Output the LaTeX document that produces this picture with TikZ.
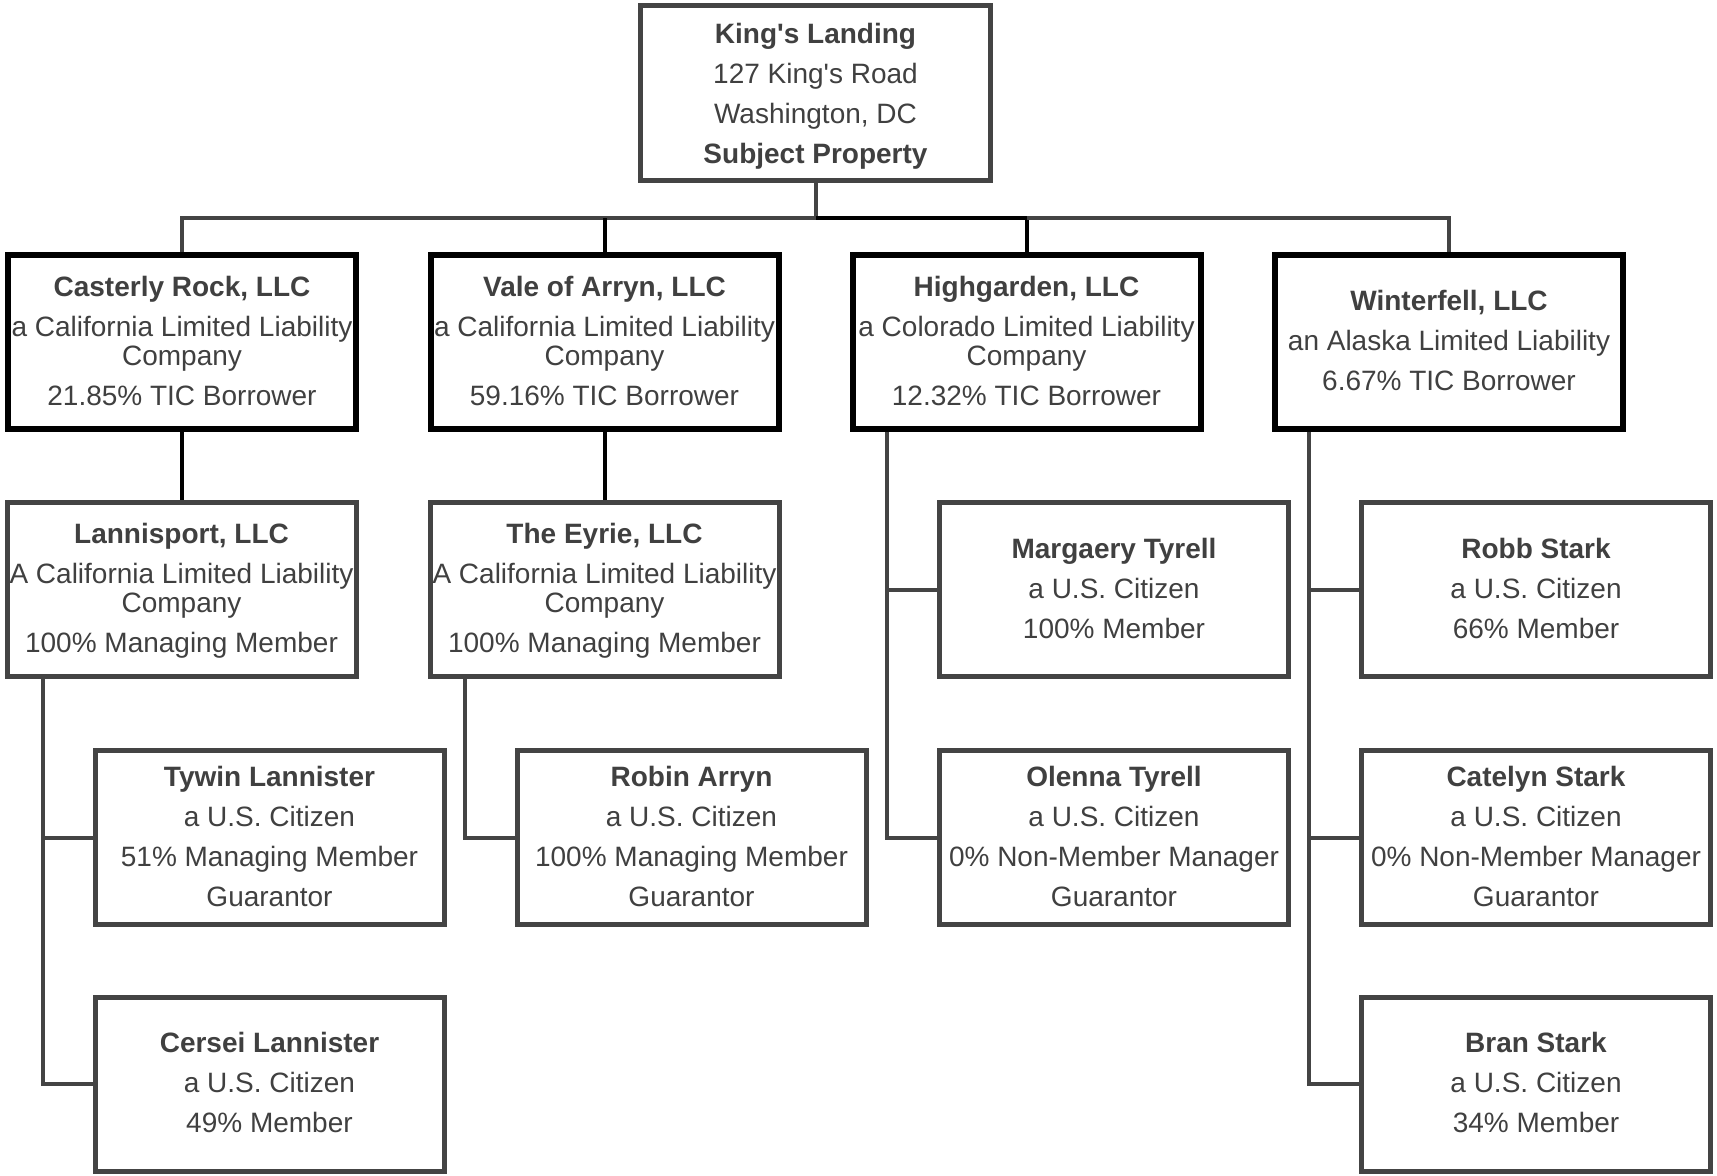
\documentclass[tikz,border=0pt]{standalone}
\usepackage{fontspec}
\setmainfont{Liberation Sans}
\usetikzlibrary{calc}
\definecolor{ink}{HTML}{404040}
\definecolor{edge}{HTML}{444444}
\newcommand{\ap}{\textquotesingle}
\newcommand{\pb}{\\[5.5pt]}
\newcommand{\tst}{\rule{0pt}{13.2pt}}
\begin{document}
\begin{tikzpicture}[x=0.5pt,y=-0.5pt,
  box/.style={draw=edge, line width=2.5pt, fill=white, rectangle, inner sep=0pt,
    align=center, text=ink, font=\fontsize{14pt}{14.5pt}\selectfont,
    minimum width=174.5pt, minimum height=87pt},
  llc/.style={box, draw=black, line width=3pt, minimum width=174pt, minimum height=87pt},
  gconn/.style={draw=edge, line width=2pt},
  bconn/.style={draw=black, line width=2pt}]
\fill[white] (0,0) rectangle (1717,1175);
\useasboundingbox (0,0) rectangle (1717,1175);

% top
\node[box, minimum width=175pt, minimum height=87.5pt] (top) at (815.5,93)
  {\rule{0pt}{15pt}\textbf{King\ap s Landing}\pb 127 King\ap s Road\pb Washington, DC\pb \textbf{Subject Property}\strut};

% tier 2
\node[llc] (cr) at (182,342) {\tst\textbf{Casterly Rock, LLC}\pb a California Limited Liability\\ Company\pb 21.85\% TIC Borrower\strut};
\node[llc] (va) at (604.5,342) {\tst\textbf{Vale of Arryn, LLC}\pb a California Limited Liability\\ Company\pb 59.16\% TIC Borrower\strut};
\node[llc] (hg) at (1026.5,342) {\tst\textbf{Highgarden, LLC}\pb a Colorado Limited Liability\\ Company\pb 12.32\% TIC Borrower\strut};
\node[llc] (wf) at (1449,342) {\tst\textbf{Winterfell, LLC}\pb an Alaska Limited Liability\pb 6.67\% TIC Borrower\strut};

% tier 3
\node[box] (lp) at (181.5,589.5) {\tst\textbf{Lannisport, LLC}\pb A California Limited Liability\\ Company\pb 100\% Managing Member\strut};
\node[box] (ey) at (604.5,589.5) {\tst\textbf{The Eyrie, LLC}\pb A California Limited Liability\\ Company\pb 100\% Managing Member\strut};
\node[box] (mt) at (1114,589.5) {\tst\textbf{Margaery Tyrell}\pb a U.S. Citizen\pb 100\% Member\strut};
\node[box] (rs) at (1536,589.5) {\tst\textbf{Robb Stark}\pb a U.S. Citizen\pb 66\% Member\strut};

% tier 4
\node[box] (ty) at (269.5,837.5) {\tst\textbf{Tywin Lannister}\pb a U.S. Citizen\pb 51\% Managing Member\pb Guarantor\strut};
\node[box] (ra) at (691.5,837.5) {\tst\textbf{Robin Arryn}\pb a U.S. Citizen\pb 100\% Managing Member\pb Guarantor\strut};
\node[box] (ot) at (1114,837.5) {\tst\textbf{Olenna Tyrell}\pb a U.S. Citizen\pb 0\% Non-Member Manager\pb Guarantor\strut};
\node[box] (cs) at (1536,837.5) {\tst\textbf{Catelyn Stark}\pb a U.S. Citizen\pb 0\% Non-Member Manager\pb Guarantor\strut};

% tier 5
\node[box] (ce) at (269.5,1084) {\tst\textbf{Cersei Lannister}\pb a U.S. Citizen\pb 49\% Member\strut};
\node[box] (bs) at (1536,1084) {\tst\textbf{Bran Stark}\pb a U.S. Citizen\pb 34\% Member\strut};

% connectors
\coordinate (bus) at (815.5,218);
\draw[gconn] (top.south) -- (top.south |- bus) -| (cr.north);
\draw[bconn] (top.south |- bus) -| (hg.north);
\draw[bconn] (va.north |- bus) -- (va.north);
\draw[gconn] (hg.north |- bus) -| (wf.north);

\draw[bconn] (cr.south) -- (cr.south |- lp.north);
\draw[bconn] (va.south) -- (va.south |- ey.north);

\coordinate (s1) at (43,0);
\coordinate (s2) at (465,0);
\coordinate (s3) at (887,0);
\coordinate (s4) at (1309,0);
\draw[gconn] (s1 |- lp.south) |- (ty.west);
\draw[gconn] (s1 |- lp.south) |- (ce.west);
\draw[gconn] (s2 |- ey.south) |- (ra.west);
\draw[gconn] (s3 |- hg.south) |- (mt.west);
\draw[gconn] (s3 |- hg.south) |- (ot.west);
\draw[gconn] (s4 |- wf.south) |- (rs.west);
\draw[gconn] (s4 |- wf.south) |- (cs.west);
\draw[gconn] (s4 |- wf.south) |- (bs.west);
\end{tikzpicture}
\end{document}
